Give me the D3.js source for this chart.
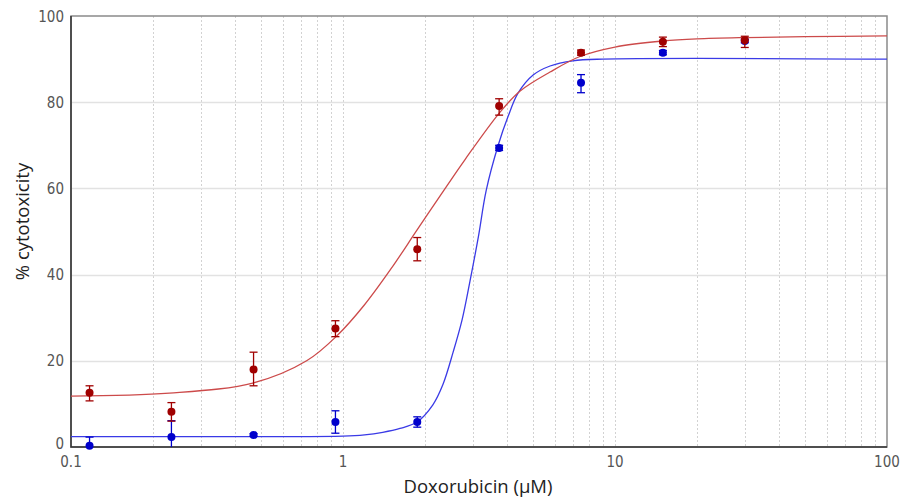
<!DOCTYPE html>
<html>
<head>
<meta charset="utf-8">
<script src="https://cdn.jsdelivr.net/npm/d3@7"></script>
<style>
  body { margin: 0; background: #fff; }
  svg { display: block; }
</style>
</head>
<body>
<svg id="chart"></svg>
<script>
// concentrations (µM), shared by both series
const concentrations = [0.117, 0.234, 0.469, 0.938, 1.875, 3.75, 7.5, 15, 30];

// red series: mean and error-bar ends
const redMean = [12.6, 8.2, 18.0, 27.5, 45.9, 79.1, 91.5, 94.0, 94.4];
const redLow = [10.7, 6.0, 14.2, 25.6, 43.2, 77.0, 90.9, 92.9, 92.7];
const redHigh = [14.2, 10.3, 22.0, 29.3, 48.6, 80.8, 92.1, 95.1, 95.3];

// blue series
const blueMean = [0.3, 2.3, 2.8, 5.8, 5.8, 69.4, 84.5, 91.5, 94.2];
const blueLow = [0, 0, 2.5, 3.2, 4.6, 68.8, 82.2, 91.0, 93.8];
const blueHigh = [2.3, 6.1, 3.1, 8.4, 7.0, 70.0, 86.4, 92.0, 94.6];

// fitted curves
const redFitX = [0.1, 0.23, 0.47, 0.735, 0.95, 1.2, 1.5, 1.87, 2.41, 2.81, 3.78, 4.48, 5.77, 7.43, 10, 15, 20, 30, 50, 100];
const redFitY = [11.8, 12.5, 14.9, 20.0, 25.8, 33.0, 41.3, 50.3, 60.6, 66.7, 77.7, 82.6, 87.0, 90.6, 92.8, 94.2, 94.7, 95.0, 95.2, 95.4];
const blueFitX = [0.1, 0.5, 1.0, 1.2, 1.4, 1.62, 1.87, 2.14, 2.33, 2.54, 2.74, 2.93, 3.15, 3.36, 3.72, 4.04, 4.4, 5.0, 5.77, 7.0, 9.0, 100];
const blueFitY = [2.4, 2.4, 2.5, 2.8, 3.4, 4.3, 5.8, 9.8, 14.5, 22.0, 29.5, 38.5, 49.0, 59.5, 70.0, 76.6, 82.1, 86.3, 88.4, 89.6, 90.0, 90.0];

const xTicks = [0.1, 1, 10, 100];
const yTicks = [0, 20, 40, 60, 80, 100];

const width = 901;
const height = 499;
const margin = { top: 16, right: 14, bottom: 52, left: 71 };
const innerW = width - margin.left - margin.right;
const innerH = height - margin.top - margin.bottom;

const svg = d3.select("#chart").attr("width", width).attr("height", height);
const g = svg.append("g").attr("transform", `translate(${margin.left},${margin.top})`);

const x = d3.scaleLog().domain([0.1, 100]).range([0, innerW]);
const y = d3.scaleLinear().domain([0, 100]).range([innerH, 0]);

// minor vertical grid (dotted)
const minor = [];
[0.1, 1, 10].forEach((d) => {
  for (let k = 1; k <= 9; k++) minor.push(d * k);
});
g.append("g")
  .selectAll("line")
  .data(minor.filter((d) => d > 0.1 && d < 100))
  .join("line")
  .attr("x1", (d) => Math.round(x(d)) + 0.5)
  .attr("x2", (d) => Math.round(x(d)) + 0.5)
  .attr("y1", 0)
  .attr("y2", innerH)
  .attr("stroke", "#d2d2d2")
  .attr("stroke-dasharray", "2,2");

// horizontal grid
g.append("g")
  .selectAll("line")
  .data(yTicks.filter((d) => d > 0 && d < 100))
  .join("line")
  .attr("x1", 0)
  .attr("x2", innerW)
  .attr("y1", (d) => Math.round(y(d)) + 0.5)
  .attr("y2", (d) => Math.round(y(d)) + 0.5)
  .attr("stroke", "#e2e2e2")
  .attr("stroke-width", 1.5);

// frame
g.append("rect")
  .attr("x", 0)
  .attr("y", 0)
  .attr("width", innerW)
  .attr("height", innerH)
  .attr("fill", "none")
  .attr("stroke", "#8a8a8a")
  .attr("stroke-width", 1.5);
g.append("path")
  .attr("d", `M0,0V${innerH}H${innerW}`)
  .attr("fill", "none")
  .attr("stroke", "#333")
  .attr("stroke-width", 1.5);

// tick labels
const tickFont = "'Liberation Sans Narrow', 'DejaVu Sans Condensed', sans-serif";
g.append("g")
  .selectAll("text")
  .data(yTicks)
  .join("text")
  .attr("x", -7)
  .attr("y", (d) => (d === 0 ? y(d) - 3 : y(d) + 1))
  .attr("text-anchor", "end")
  .attr("dominant-baseline", "middle")
  .attr("font-family", tickFont)
  .attr("font-size", 15)
  .attr("fill", "#555")
  .text((d) => d);

g.append("g")
  .selectAll("text")
  .data(xTicks)
  .join("text")
  .attr("x", (d) => x(d))
  .attr("y", innerH + 15)
  .attr("text-anchor", "middle")
  .attr("dominant-baseline", "middle")
  .attr("font-family", tickFont)
  .attr("font-size", 15)
  .attr("fill", "#555")
  .text((d) => d);

// axis titles
svg.append("text")
  .attr("x", margin.left + x(Math.sqrt(10)) - 1)
  .attr("y", 488)
  .attr("text-anchor", "middle")
  .attr("dominant-baseline", "middle")
  .attr("font-family", "'Open Sans', sans-serif")
  .attr("font-size", 18.5)
  .attr("fill", "#222")
  .text("Doxorubicin (µM)");

svg.append("text")
  .attr("transform", `translate(24,${margin.top + innerH / 2 - 10}) rotate(-90)`)
  .attr("text-anchor", "middle")
  .attr("dominant-baseline", "middle")
  .attr("font-family", "'Open Sans', sans-serif")
  .attr("font-size", 18.5)
  .attr("fill", "#222")
  .text("% cytotoxicity");

// plotting series (blue first so red markers sit on top)
const series = [
  { fitX: blueFitX, fitY: blueFitY, mean: blueMean, low: blueLow, high: blueHigh, line: "#3a3ae6", mark: "#0000cc" },
  { fitX: redFitX, fitY: redFitY, mean: redMean, low: redLow, high: redHigh, line: "#cc4a4a", mark: "#a00000" },
];

const lineGen = d3.line()
  .x((d) => x(d[0]))
  .y((d) => y(d[1]))
  .curve(d3.curveCatmullRom.alpha(0.5));

series.forEach((s) => {
  g.append("path")
    .datum(d3.zip(s.fitX, s.fitY))
    .attr("d", lineGen)
    .attr("fill", "none")
    .attr("stroke", s.line)
    .attr("stroke-width", 1.3);
});

series.forEach((s) => {
  const pts = concentrations.map((c, i) => ({ c, m: s.mean[i], lo: s.low[i], hi: s.high[i] }));
  const grp = g.append("g").attr("stroke", s.mark).attr("fill", s.mark);
  grp.selectAll("line.bar")
    .data(pts)
    .join("line")
    .attr("class", "bar")
    .attr("x1", (d) => x(d.c))
    .attr("x2", (d) => x(d.c))
    .attr("y1", (d) => y(d.lo))
    .attr("y2", (d) => y(d.hi))
    .attr("stroke-width", 1.3);
  grp.selectAll("line.capHi")
    .data(pts)
    .join("line")
    .attr("class", "capHi")
    .attr("x1", (d) => x(d.c) - 4)
    .attr("x2", (d) => x(d.c) + 4)
    .attr("y1", (d) => y(d.hi))
    .attr("y2", (d) => y(d.hi))
    .attr("stroke-width", 1.3);
  grp.selectAll("line.capLo")
    .data(pts.filter((d) => d.lo > 0))
    .join("line")
    .attr("class", "capLo")
    .attr("x1", (d) => x(d.c) - 4)
    .attr("x2", (d) => x(d.c) + 4)
    .attr("y1", (d) => y(d.lo))
    .attr("y2", (d) => y(d.lo))
    .attr("stroke-width", 1.3);
  grp.selectAll("circle")
    .data(pts)
    .join("circle")
    .attr("cx", (d) => x(d.c))
    .attr("cy", (d) => y(d.m))
    .attr("r", 4)
    .attr("stroke", "none");
});
</script>
</body>
</html>
